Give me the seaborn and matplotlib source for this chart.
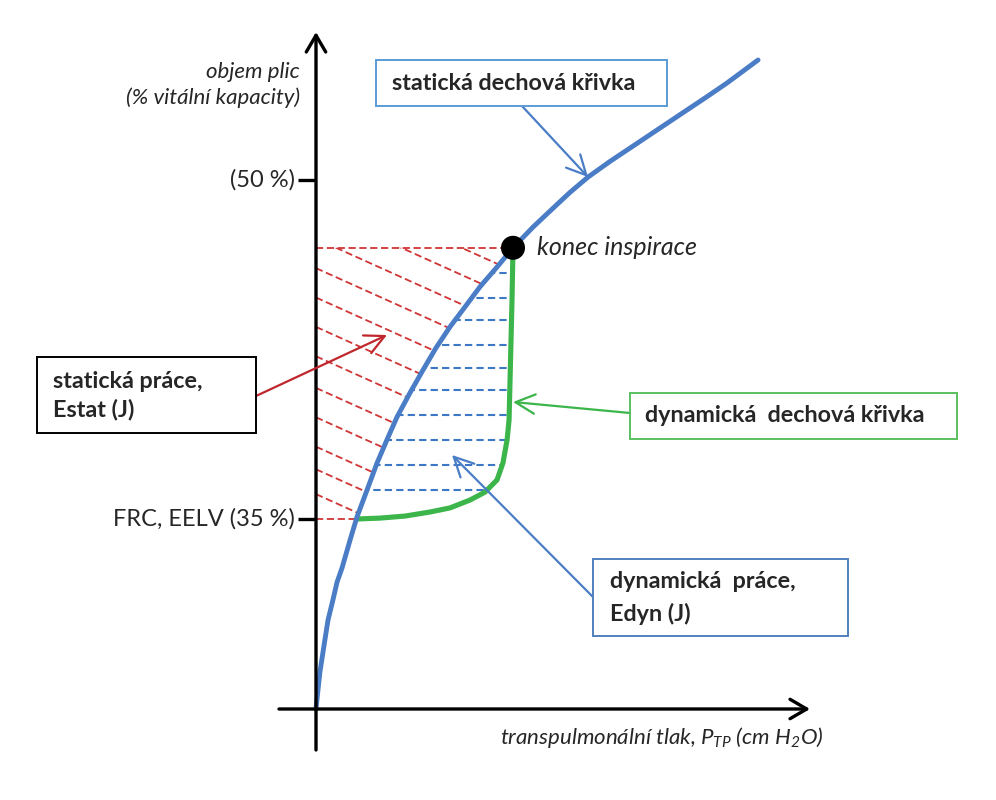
import numpy as np
import matplotlib
matplotlib.use("Agg")
import matplotlib.pyplot as plt
import seaborn as sns
from matplotlib.patches import Polygon, Rectangle

# static P-V curve (transpulmonary pressure, % vital capacity)
static_p = [0.00, 0.10, 0.20, 0.41, 0.61, 0.86, 1.07, 1.32, 1.73, 2.08, 2.59, 3.10, 3.60, 4.11,
            4.77, 5.43, 6.09, 6.80, 7.56, 8.32, 9.19, 10.0, 11.02, 12.03, 12.89, 13.81, 14.92,
            16.09, 17.36, 18.63, 19.75, 20.86, 22.44]
static_v = [26.59, 27.43, 28.23, 29.42, 30.53, 31.42, 32.21, 32.83, 34.07, 35.09, 36.28, 37.48,
            38.50, 39.51, 40.58, 41.59, 42.57, 43.50, 44.38, 45.27, 46.15, 47.0, 47.92, 48.75,
            49.45, 50.13, 50.82, 51.50, 52.24, 52.98, 53.63, 54.29, 55.31]

# dynamic inspiration curve
dyn_p = [2.08, 3.25, 4.52, 5.79, 6.80, 7.82, 8.58, 9.19, 9.49, 9.70, 9.80, 9.85, 9.90, 9.95, 10.0]
dyn_v = [35.0, 35.04, 35.13, 35.31, 35.49, 35.84, 36.19, 36.73, 37.48, 38.50, 39.38, 41.15,
         42.92, 44.69, 47.0]

end_p, end_v = 10.0, 47.0      # konec inspirace
frc_v = 35.0
tick_values = [50.0, 35.0]
tick_labels = ["(50 %)", "FRC, EELV (35 %)"]

# hatching of the work areas
blue_hatch_v = [45.9, 44.8, 43.8, 42.7, 41.7, 40.7, 39.6, 38.5, 37.4, 36.3]
red_hatch_v0 = [49.9, 48.7, 47.4, 46.1, 44.8, 43.5, 42.2, 40.8, 39.5, 38.2, 37.2, 36.1]

BLUE = "#4a7dc6"
GREEN = "#3cb54a"
RED = "#d03535"
DARKRED = "#c0272d"

# pixel <-> data helpers (figure is 996 x 800 px)
W, H = 996, 800
PX_P, PX_V = 19.7, 22.6
X0, Y0 = 316, 519


def to_data(x, y):
    return (x - X0) / PX_P, frc_v - (y - Y0) / PX_V


def fig_xy(x, y):
    return x / W, 1 - y / H


sns.set_style("white")
plt.rcParams["font.family"] = ["Lato", "DejaVu Sans"]
plt.rcParams["mathtext.fontset"] = "custom"
plt.rcParams["mathtext.rm"] = "Lato:italic"
plt.rcParams["mathtext.it"] = "Lato:italic"

fig = plt.figure(figsize=(W / 100, H / 100), dpi=100)
ax = fig.add_axes([0, 0, 1, 1])
ax.set_xlim(to_data(0, 0)[0], to_data(W, 0)[0])
ax.set_ylim(to_data(0, H)[1], to_data(0, 0)[1])
ax.axis("off")

# axes with arrows
axis_kw = dict(arrowstyle="->,head_length=0.6,head_width=0.35", lw=2.4, color="black",
               shrinkA=0, shrinkB=0, mutation_scale=20)
ax.annotate("", xy=to_data(316, 32), xytext=to_data(316, 750), arrowprops=axis_kw)
ax.annotate("", xy=to_data(810, 709), xytext=to_data(279, 709), arrowprops=axis_kw)

# y ticks
for v, lab in zip(tick_values, tick_labels):
    ax.plot([-0.92, 0], [v, v], color="black", lw=2.4, solid_capstyle="butt")
    ax.text(-1.05, v, lab, ha="right", va="center", fontsize=17)

# red hatch (static work) region
i_top = static_p.index(end_p)
red_poly = [(0, frc_v), (0, end_v), (end_p, end_v)]
red_poly += [(p, v) for p, v in zip(static_p[:i_top + 1], static_v[:i_top + 1]) if v >= frc_v][::-1]
red_patch = Polygon(red_poly, closed=True, fill=False, lw=0)
ax.add_patch(red_patch)
slope = -0.45 * PX_P / PX_V
hp = np.array([0, 14])
for v0 in red_hatch_v0:
    ln, = ax.plot(hp, v0 + slope * hp, color=RED, lw=1.3, dashes=(4, 2))
    ln.set_clip_path(red_patch)
ax.plot([0, end_p], [end_v, end_v], color=RED, lw=1.3, dashes=(4, 2))
ax.plot([0, dyn_p[0]], [frc_v, frc_v], color=RED, lw=1.3, dashes=(4, 2))

# blue hatch (dynamic work) region
blue_poly = [(p, v) for p, v in zip(static_p[:i_top + 1], static_v[:i_top + 1]) if v >= frc_v]
blue_poly += list(zip(dyn_p, dyn_v))[::-1]
blue_patch = Polygon(blue_poly, closed=True, fill=False, lw=0)
ax.add_patch(blue_patch)
for v in blue_hatch_v:
    ln, = ax.plot([0, 14], [v, v], color="#3d78c6", lw=1.5, dashes=(3.5, 2))
    ln.set_clip_path(blue_patch)

# curves
sns.lineplot(x=dyn_p, y=dyn_v, sort=False, ax=ax, color=GREEN, lw=3.7, estimator=None)
sns.lineplot(x=static_p, y=static_v, sort=False, ax=ax, color=BLUE, lw=3.5, estimator=None)
sns.scatterplot(x=[end_p], y=[end_v], ax=ax, color="black", s=300, edgecolor="none", zorder=5)
ax.text(end_p + 1.2, end_v, "konec inspirace", fontsize=18, style="italic", va="center")

# axis titles
ax.text(*to_data(300, 72), "objem plic", fontsize=16, style="italic", ha="right", va="center")
ax.text(*to_data(300, 98), "(% vitální kapacity)", fontsize=16, style="italic", ha="right", va="center")
ax.text(*to_data(500, 737), r"transpulmonální tlak, $P_{TP}$ (cm H$_2$O)", fontsize=16,
        style="italic", ha="left", va="center")


# label boxes
def box(x0, y0, x1, y1, color):
    fx0, fy1 = fig_xy(x0, y1)
    fx1, fy0 = fig_xy(x1, y0)
    ax.add_patch(Rectangle((fx0, fy1), fx1 - fx0, fy0 - fy1, transform=fig.transFigure,
                           fill=True, facecolor="white", edgecolor=color, lw=1.4, zorder=6))


def label(x, y, s):
    ax.text(*fig_xy(x, y), s, transform=fig.transFigure, fontsize=16.8, fontweight="bold",
            ha="left", va="center", zorder=7)


def arrow(start, target, color):
    ax.annotate("", xy=target, xytext=fig_xy(*start), textcoords="figure fraction",
                arrowprops=dict(arrowstyle="->,head_length=0.7,head_width=0.35", lw=1.6,
                                color=color, shrinkA=0, shrinkB=0, mutation_scale=20))


i_arr = static_p.index(13.81)

box(376, 60, 667, 106, "#5b9bd5")
label(392, 84, "statická dechová křivka")
arrow((522, 106), (static_p[i_arr], static_v[i_arr]), BLUE)

box(37, 357, 256, 433, "black")
label(53, 382, "statická práce,")
label(53, 410, "Estat (J)")
arrow((256, 396), to_data(387, 335), DARKRED)

box(630, 393, 957, 439, "#5cc060")
label(645, 416, "dynamická  dechová křivka")
arrow((630, 413), to_data(513, 402), GREEN)

box(593, 559, 848, 636, "#4f81bd")
label(610, 581, "dynamická  práce,")
label(610, 614, "Edyn (J)")
arrow((593, 597), to_data(452, 455), BLUE)

fig.savefig("out.png", dpi=100)
